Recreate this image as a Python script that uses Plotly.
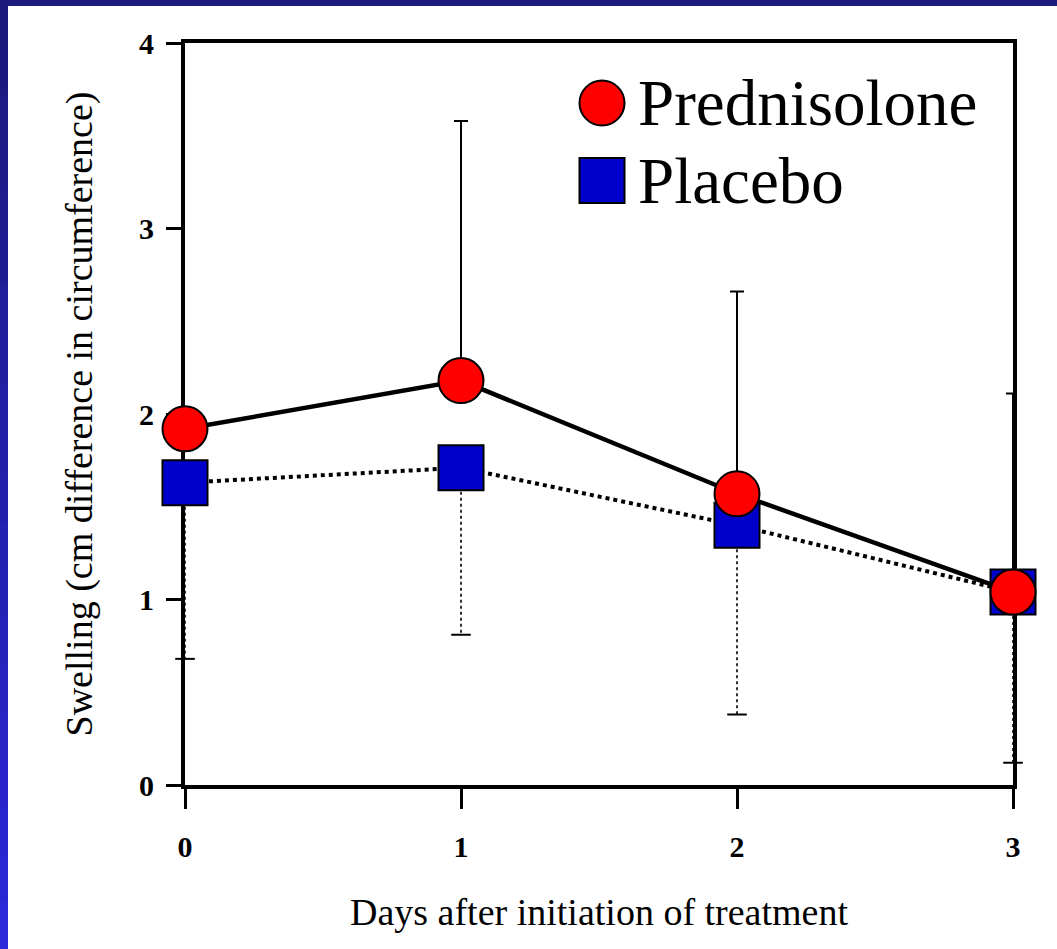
import plotly.graph_objects as go

# ---- data ----
days = [0, 1, 2, 3]
pred_mean = [1.92, 2.18, 1.57, 1.04]
pred_err_up = [0.0, 1.40, 1.09, 1.07]
plac_mean = [1.63, 1.71, 1.40, 1.04]
plac_err_down = [0.95, 0.90, 1.02, 0.92]
x_ticks = [0, 1, 2, 3]
y_ticks = [0, 1, 2, 3, 4]

W, H = 1057, 949
L, R, T, B = 185, 44, 43, 164
PW, PH = W - L - R, H - T - B


def px(xp):
    return (xp - L) / PW


def py(yp):
    return (H - B - yp) / PH


SERIF = "Liberation Serif, Times New Roman, serif"
fig = go.Figure()

# placebo dotted stems (lower error bars)
stem_x, stem_y = [], []
for d, m, e in zip(days, plac_mean, plac_err_down):
    stem_x += [d, d, None]
    stem_y += [m, m - e, None]
fig.add_trace(go.Scatter(x=stem_x, y=stem_y, mode="lines",
                         line=dict(color="black", width=1.6, dash="dot"),
                         cliponaxis=False, showlegend=False, hoverinfo="skip"))
fig.add_trace(go.Scatter(x=days, y=[m - e for m, e in zip(plac_mean, plac_err_down)],
                         mode="markers",
                         marker=dict(symbol="line-ew", size=14,
                                     line=dict(color="black", width=2)),
                         cliponaxis=False, showlegend=False, hoverinfo="skip"))

# placebo series
fig.add_trace(go.Scatter(x=days, y=plac_mean, mode="lines+markers", name="Placebo",
                         line=dict(color="black", width=4, dash="dot"),
                         marker=dict(symbol="square", size=45, color="#0000cc",
                                     line=dict(color="black", width=2)),
                         cliponaxis=False, showlegend=False))

# prednisolone series with upper error bars
fig.add_trace(go.Scatter(x=days, y=pred_mean, mode="lines+markers", name="Prednisolone",
                         line=dict(color="black", width=4.5),
                         marker=dict(symbol="circle", size=45, color="#ff0000",
                                     line=dict(color="black", width=2)),
                         error_y=dict(type="data", symmetric=False, array=pred_err_up,
                                      arrayminus=[0] * len(days), color="black",
                                      thickness=2, width=7),
                         cliponaxis=False, showlegend=False))

shapes = []
# slide border bands
shapes.append(dict(type="rect", xref="paper", yref="paper",
                   x0=px(0), x1=px(W), y0=py(6), y1=py(0),
                   fillcolor="#1c1a7c", line=dict(width=0), layer="below"))
n = 20
for i in range(n):
    t = i / (n - 1)
    r = int(0x1c + (0x2a - 0x1c) * t)
    g = int(0x1a + (0x28 - 0x1a) * t)
    b = int(0x7c + (0xd8 - 0x7c) * t)
    shapes.append(dict(type="rect", xref="paper", yref="paper",
                       x0=px(0), x1=px(8), y0=py(H * (i + 1) / n + 1), y1=py(H * i / n),
                       fillcolor=f"rgb({r},{g},{b})", line=dict(width=0), layer="below"))

# legend symbols
shapes.append(dict(type="circle", xref="paper", yref="paper",
                   x0=px(579.5), x1=px(624.5), y0=py(125.5), y1=py(80.5),
                   fillcolor="#ff0000", line=dict(color="black", width=2)))
shapes.append(dict(type="rect", xref="paper", yref="paper",
                   x0=px(579.5), x1=px(624.5), y0=py(203), y1=py(158),
                   fillcolor="#0000cc", line=dict(color="black", width=2)))

annotations = [
    dict(text="Prednisolone", xref="paper", yref="paper", x=px(636), y=py(103),
         xanchor="left", yanchor="middle", showarrow=False,
         font=dict(family=SERIF, size=65, color="black")),
    dict(text="Placebo", xref="paper", yref="paper", x=px(636), y=py(181),
         xanchor="left", yanchor="middle", showarrow=False,
         font=dict(family=SERIF, size=65, color="black")),
]

fig.update_layout(
    width=W, height=H,
    margin=dict(l=L, r=R, t=T, b=B, pad=0),
    paper_bgcolor="white", plot_bgcolor="white",
    font=dict(family=SERIF, color="black"),
    shapes=shapes, annotations=annotations,
    showlegend=False,
)
fig.update_xaxes(range=[0, 3], tickvals=x_ticks, ticktext=[str(v) for v in x_ticks],
                 showgrid=False, zeroline=False,
                 showline=True, linecolor="black", linewidth=4, mirror=True,
                 ticks="outside", ticklen=20, tickwidth=3, tickcolor="black",
                 ticklabelstandoff=12,
                 tickfont=dict(family=SERIF, size=30, color="black", weight="bold"),
                 title=dict(text="Days after initiation of treatment", standoff=37,
                            font=dict(family=SERIF, size=38, color="black")),
                 layer="below traces")
fig.update_yaxes(range=[0, 4], tickvals=y_ticks, ticktext=[str(v) for v in y_ticks],
                 showgrid=False, zeroline=False,
                 showline=True, linecolor="black", linewidth=4, mirror=True,
                 ticks="outside", ticklen=15, tickwidth=3, tickcolor="black",
                 ticklabelstandoff=6,
                 tickfont=dict(family=SERIF, size=30, color="black", weight="bold"),
                 title=dict(text="Swelling (cm difference in circumference)", standoff=36,
                            font=dict(family=SERIF, size=38, color="black")),
                 layer="below traces")

fig.write_html("out.html")
